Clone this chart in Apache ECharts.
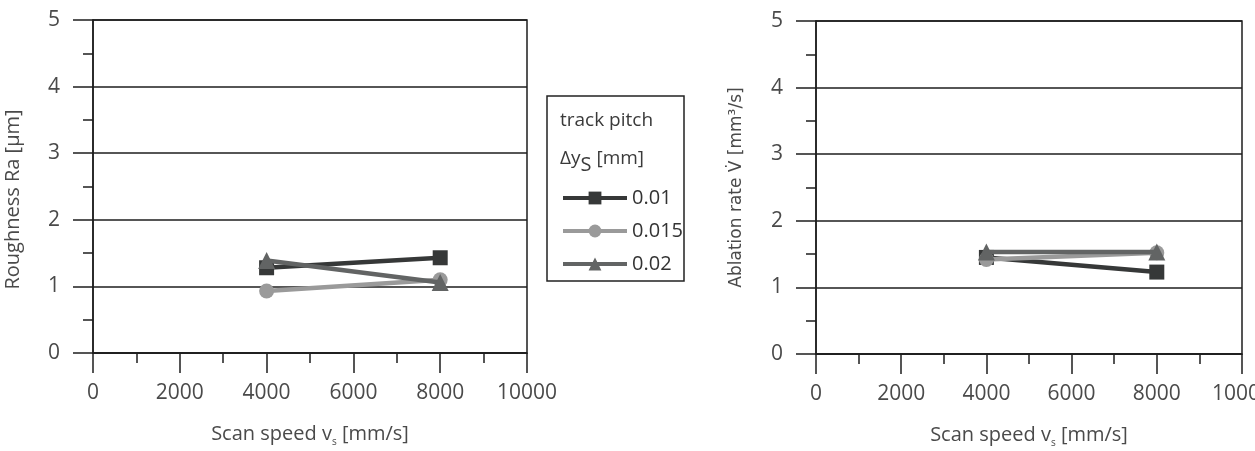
<!DOCTYPE html>
<html>
<head>
<meta charset="utf-8">
<script src="https://cdn.jsdelivr.net/npm/echarts@6/dist/echarts.min.js"></script>
<style>
  html, body { margin: 0; padding: 0; background: #fff; }
  #chart { width: 1255px; height: 451px; }
</style>
</head>
<body>
<div id="chart"></div>
<script>
  // scan speeds (x values) shared by both plots
  const speeds = [4000, 8000]
  const pitchNames = ['0.01', '0.015', '0.02']
  // roughness Ra [µm], one array per track pitch
  const ra001 = [1.28, 1.43]
  const ra0015 = [0.93, 1.10]
  const ra002 = [1.39, 1.06]
  // ablation rate [mm³/s]
  const abl001 = [1.45, 1.23]
  const abl0015 = [1.42, 1.52]
  const abl002 = [1.53, 1.53]
  const xTicks = [0, 2000, 4000, 6000, 8000, 10000]
  const yTicks = [0, 1, 2, 3, 4, 5]

  const lineColors = ['#363838', '#9a9a9a', '#626464']
  const symbols = ['rect', 'circle', 'triangle']
  const symbolSizes = [15, 15, 17]
  const font = '"Open Sans", "DejaVu Sans", sans-serif'
  const axisColor = '#1e1e1e'
  const textColor = '#4a4a4a'

  const chart = echarts.init(document.getElementById('chart'))

  function pairs(ys) {
    return speeds.map((x, i) => [x, ys[i]])
  }

  function makeSeries(values, gridIndex) {
    return values.map((vals, i) => ({
      name: pitchNames[i],
      type: 'line',
      xAxisIndex: gridIndex,
      yAxisIndex: gridIndex,
      data: pairs(vals),
      symbol: symbols[i],
      symbolSize: symbolSizes[i],
      lineStyle: { color: lineColors[i], width: 4.5 },
      itemStyle: { color: lineColors[i] },
      z: 3 + i
    }))
  }

  function xAxis(gridIndex) {
    return {
      gridIndex: gridIndex,
      type: 'value',
      min: xTicks[0],
      max: xTicks[xTicks.length - 1],
      interval: 2000,
      name: 'Scan speed v{s|s} [mm/s]',
      nameLocation: 'middle',
      nameGap: 68,
      nameTextStyle: {
        fontFamily: font, fontSize: 20, color: textColor,
        rich: { s: { fontSize: 10, padding: [16, 0, 0, 0], color: textColor, fontFamily: font } }
      },
      axisLine: { lineStyle: { color: axisColor, width: 1.5 } },
      axisTick: { length: 20, lineStyle: { color: axisColor, width: 1.5 } },
      minorTick: { show: true, splitNumber: 2, length: 10, lineStyle: { color: axisColor, width: 1.5 } },
      splitLine: { show: false },
      axisLabel: {
        margin: 30, fontFamily: font, fontSize: 21, color: textColor,
        formatter: v => String(v)
      }
    }
  }

  function yAxis(gridIndex, name, nameGap, nameStyle) {
    return {
      gridIndex: gridIndex,
      type: 'value',
      min: yTicks[0],
      max: yTicks[yTicks.length - 1],
      interval: 1,
      name: name,
      nameLocation: 'middle',
      nameGap: nameGap,
      nameTextStyle: Object.assign({ fontFamily: font, fontSize: 20, color: textColor }, nameStyle),
      axisLine: { lineStyle: { color: axisColor, width: 1.5 } },
      axisTick: { length: 20, lineStyle: { color: axisColor, width: 1.5 } },
      minorTick: { show: true, splitNumber: 2, length: 10, lineStyle: { color: axisColor, width: 1.5 } },
      splitLine: { show: true, lineStyle: { color: axisColor, width: 1.5 } },
      axisLabel: { margin: 33, fontFamily: font, fontSize: 21, color: textColor }
    }
  }

  chart.setOption({
    backgroundColor: '#fff',
    animation: false,
    title: {
      text: 'track pitch\nΔy{s|S} [mm]',
      left: 555,
      top: 97,
      textStyle: {
        fontFamily: font, fontSize: 19, fontWeight: 'normal', color: '#3a3a3a', lineHeight: 38,
        rich: { s: { fontSize: 20, padding: [12, 0, 0, 0], color: '#3a3a3a', fontFamily: font } }
      }
    },
    legend: {
      data: pitchNames,
      orient: 'vertical',
      left: 556,
      top: 183,
      itemWidth: 64,
      itemHeight: 16,
      itemGap: 13,
      selectedMode: false,
      lineStyle: { width: 4 },
      textStyle: { fontFamily: font, fontSize: 20, color: '#333' }
    },
    graphic: [{
      type: 'rect',
      shape: { x: 547, y: 96, width: 137, height: 185 },
      style: { fill: null, stroke: '#222', lineWidth: 1.5 }
    }],
    grid: [
      { left: 93, top: 20, width: 434, height: 333, outerBoundsMode: 'none', show: true, borderColor: axisColor, borderWidth: 1.5 },
      { left: 816, top: 21, width: 426, height: 333, outerBoundsMode: 'none', show: true, borderColor: axisColor, borderWidth: 1.5 }
    ],
    xAxis: [xAxis(0), xAxis(1)],
    yAxis: [
      yAxis(0, 'Roughness Ra [µm]', 70, { padding: [0, 26, 0, 0] }),
      yAxis(1, 'Ablation rate V\u0307 [mm³/s]', 71, { fontFamily: '"DejaVu Sans", sans-serif', fontSize: 17 })
    ],
    series: makeSeries([ra001, ra0015, ra002], 0).concat(makeSeries([abl001, abl0015, abl002], 1))
  })
</script>
</body>
</html>
